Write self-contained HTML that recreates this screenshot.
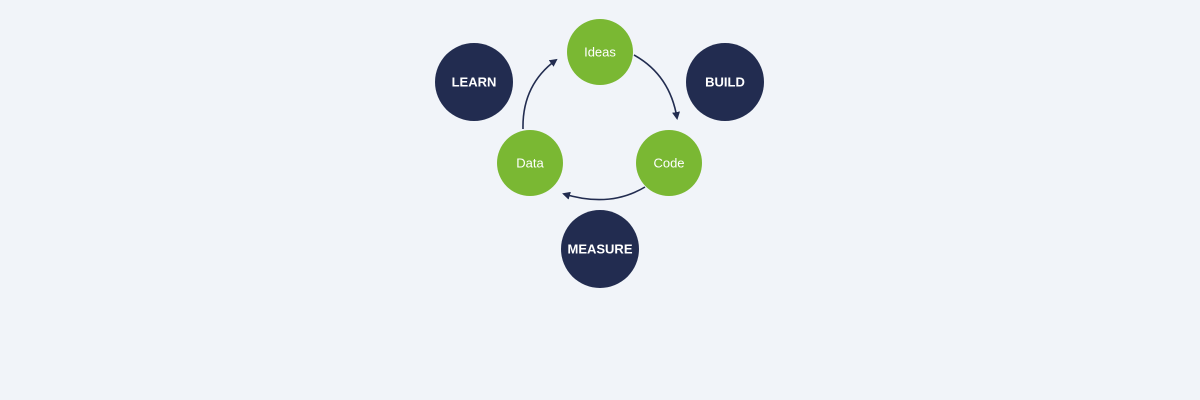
<!DOCTYPE html>
<html><head><style>
html,body{margin:0;padding:0;background:#f1f4f9;}
svg{display:block}
text{font-family:"Liberation Sans",sans-serif;fill:#fff;text-anchor:middle;dominant-baseline:central}
</style></head><body>
<svg width="1200" height="400" viewBox="0 0 1200 400">
<defs><marker id="a" markerWidth="8" markerHeight="8" refX="6" refY="4" orient="auto" markerUnits="userSpaceOnUse"><path d="M0,0 L8,4 L0,8 Z" fill="#222c50"/></marker></defs>
<circle cx="474" cy="82" r="39" fill="#222c50"/>
<circle cx="725" cy="82" r="39" fill="#222c50"/>
<circle cx="600" cy="249" r="39" fill="#222c50"/>
<text x="474" y="82" font-size="13" font-weight="bold">LEARN</text>
<text x="725" y="82" font-size="13" font-weight="bold">BUILD</text>
<text x="600" y="249" font-size="13" font-weight="bold">MEASURE</text>
<circle cx="600" cy="52" r="33" fill="#7ab833"/>
<circle cx="669" cy="163" r="33" fill="#7ab833"/>
<circle cx="530" cy="163" r="33" fill="#7ab833"/>
<text x="600" y="52" font-size="13">Ideas</text>
<text x="669" y="163" font-size="13">Code</text>
<text x="530" y="163" font-size="13">Data</text>
<g fill="none" stroke="#222c50" stroke-width="1.6">
<path d="M634,55 Q670,75 677,118" marker-end="url(#a)"/>
<path d="M645,187 Q610,208 564,194" marker-end="url(#a)"/>
<path d="M523,129 Q522,85 556,60" marker-end="url(#a)"/>
</g>
</svg>
</body></html>
